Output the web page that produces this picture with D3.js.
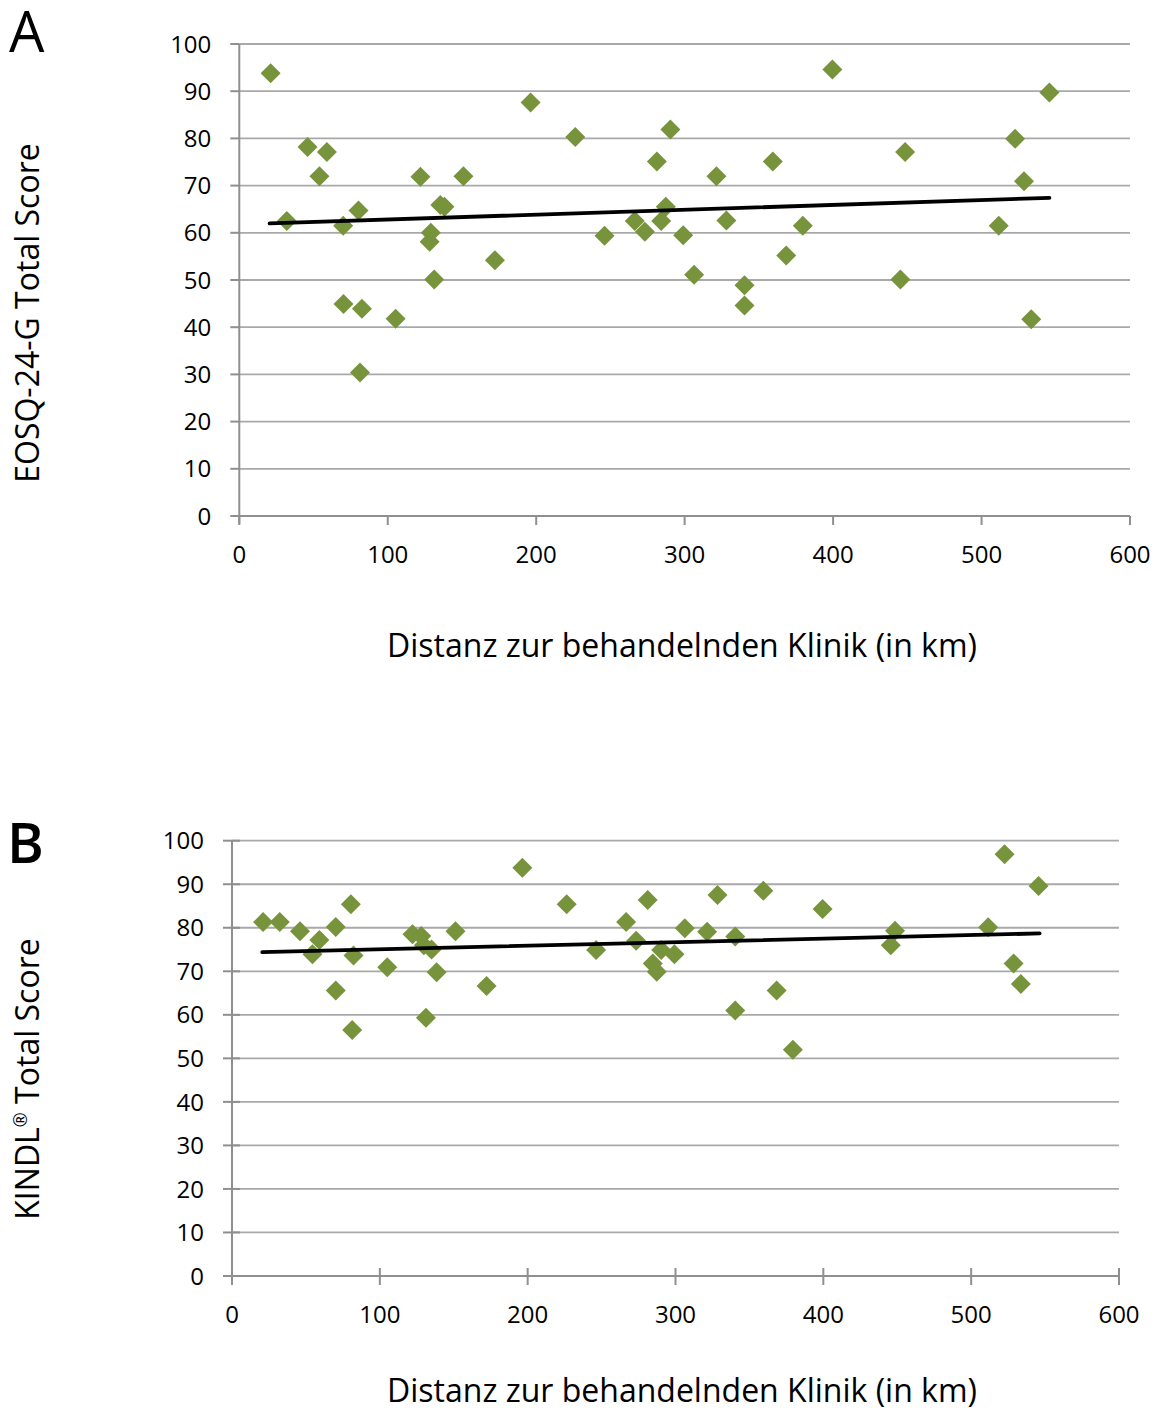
<!DOCTYPE html>
<html>
<head>
<meta charset="utf-8">
<script src="https://cdn.jsdelivr.net/npm/d3@7"></script>
<style>
  html, body { margin: 0; padding: 0; background: #fff; }
  svg { display: block; font-family: "Open Sans", "Noto Sans", sans-serif; }
</style>
</head>
<body>
<svg id="chart" width="1163" height="1411"></svg>
<script>
// ---- Data ----
const xTicks = [0, 100, 200, 300, 400, 500, 600];
const yTicks = [0, 10, 20, 30, 40, 50, 60, 70, 80, 90, 100];

const distA = [21.1, 32, 46, 54, 59, 70, 70.2, 80.3, 81.3, 82.6, 105.3, 122, 128.2, 129, 131.3, 135.4, 138.2, 151, 172.2, 196.2,
  226.3, 246, 266.4, 273.2, 281.3, 284.2, 287.3, 290.4, 299, 306.4, 321.4, 328.1, 340.3, 340.3, 359.4, 368.4, 379.6, 399.5,
  445.3, 448.5, 511.6, 522.6, 528.6, 533.5, 545.7];
const eosq = [93.8, 62.5, 78.2, 72.0, 77.1, 61.5, 44.9, 64.7, 30.4, 43.9, 41.8, 71.9, 58.1, 60.0, 50.1, 65.9, 65.5, 72.0, 54.2, 87.6,
  80.3, 59.4, 62.5, 60.2, 75.1, 62.5, 65.5, 81.9, 59.5, 51.1, 72.0, 62.6, 48.9, 44.6, 75.1, 55.2, 61.5, 94.6,
  50.1, 77.1, 61.5, 79.9, 70.9, 41.7, 89.7];
const trendAx = [20.4, 545.7];
const trendAy = [62.0, 67.4];

const distB = [21, 32.3, 46, 54.4, 59.1, 70.2, 70.2, 80.4, 81.3, 82.2, 105, 122.1, 128, 129.8, 131.2, 135, 138.4, 151.2, 172.2, 196.4,
  226.4, 246.3, 266.6, 273.4, 281.2, 284.6, 287.3, 290.3, 299.3, 306.3, 321.4, 328.4, 340.4, 340.4, 359.4, 368.4, 379.4, 399.5,
  445.6, 448.5, 511.5, 522.6, 528.7, 533.6, 545.6];
const kindl = [81.3, 81.3, 79.2, 73.9, 77.2, 80.2, 65.6, 85.4, 56.5, 73.6, 70.9, 78.5, 78.1, 76.0, 59.3, 75.0, 69.8, 79.2, 66.6, 93.8,
  85.4, 74.9, 81.3, 77.0, 86.4, 71.8, 69.9, 74.9, 73.9, 79.9, 79.1, 87.5, 78.0, 61.0, 88.5, 65.6, 52.0, 84.3,
  76.0, 79.3, 80.1, 96.9, 71.8, 67.1, 89.6];
const trendBx = [20.5, 546.3];
const trendBy = [74.4, 78.7];

const xTitle = "Distanz zur behandelnden Klinik (in km)";

// ---- Drawing ----
const svg = d3.select("#chart");
const GREEN = "#77933C";
const GRID = "#a9a9a9";
const AXIS = "#8f8f8f";

function panel(cfg) {
  const g = svg.append("g");
  const x = d3.scaleLinear().domain([0, 600]).range(cfg.xr);
  const y = d3.scaleLinear().domain([0, 100]).range(cfg.yr);
  const x0 = x(0), y0 = y(0);

  // gridlines
  g.selectAll("line.grid").data(yTicks.filter(d => d > 0)).join("line")
    .attr("x1", x0).attr("x2", x(600))
    .attr("y1", d => y(d)).attr("y2", d => y(d))
    .attr("stroke", GRID).attr("stroke-width", 1.8);

  // x axis line
  g.append("line").attr("x1", x0).attr("x2", x(600)).attr("y1", y0).attr("y2", y0)
    .attr("stroke", AXIS).attr("stroke-width", 2);
  // y axis line
  g.append("line").attr("x1", x0).attr("x2", x0).attr("y1", y(100)).attr("y2", y0 + 8)
    .attr("stroke", AXIS).attr("stroke-width", 2);

  // y ticks
  g.selectAll("line.yt").data(yTicks).join("line")
    .attr("x1", x0 - 9).attr("x2", cfg.cross ? x0 + 8 : x0)
    .attr("y1", d => y(d)).attr("y2", d => y(d))
    .attr("stroke", AXIS).attr("stroke-width", 2);
  // x ticks
  g.selectAll("line.xt").data(xTicks).join("line")
    .attr("x1", d => x(d)).attr("x2", d => x(d))
    .attr("y1", cfg.cross ? y0 - 8 : y0).attr("y2", y0 + 9)
    .attr("stroke", AXIS).attr("stroke-width", 2);

  // y tick labels
  g.selectAll("text.yl").data(yTicks).join("text")
    .attr("x", x0 - 28).attr("y", d => y(d)).attr("dy", "0.36em")
    .attr("text-anchor", "end").attr("font-size", 24).attr("fill", "#000")
    .text(d => d);
  // x tick labels
  g.selectAll("text.xl").data(xTicks).join("text")
    .attr("x", d => x(d)).attr("y", y0 + 47)
    .attr("text-anchor", "middle").attr("font-size", 24).attr("fill", "#000")
    .text(d => d);

  // points
  const pts = cfg.xs.map((d, i) => [d, cfg.ys[i]]);
  g.selectAll("path.pt").data(pts).join("path")
    .attr("d", d => {
      const cx = x(d[0]), cy = y(d[1]), r = 10;
      return `M${cx},${cy - r}L${cx + r},${cy}L${cx},${cy + r}L${cx - r},${cy}Z`;
    })
    .attr("fill", GREEN);

  // trend line
  const line = d3.line().x(d => x(d[0])).y(d => y(d[1]));
  g.append("path").datum(cfg.tx.map((d, i) => [d, cfg.ty[i]]))
    .attr("d", line).attr("stroke", "#000").attr("stroke-width", 3.8)
    .attr("stroke-linecap", "round").attr("fill", "none");

  // x title
  g.append("text").attr("x", cfg.xtX).attr("y", cfg.xtY)
    .attr("text-anchor", "middle").attr("font-size", 32).attr("fill", "#000")
    .text(xTitle);

  // y title
  const yt = g.append("text")
    .attr("transform", `translate(38.5,${cfg.ytY}) rotate(-90)`)
    .attr("text-anchor", "middle").attr("font-size", 32).attr("fill", "#000");
  cfg.ytParts.forEach(p => {
    const t = yt.append("tspan").text(p.t);
    if (p.sup) t.attr("font-size", 18).attr("dy", -12);
    if (p.after) t.attr("dy", 12);
  });

  // panel letter
  svg.append("text").attr("x", cfg.letterX).attr("y", cfg.letterY)
    .attr("font-size", 56).attr("font-weight", cfg.letterW).attr("fill", "#000")
    .text(cfg.letter);
}

panel({
  xr: [239.3, 1130], yr: [516, 44], cross: false,
  xs: distA, ys: eosq, tx: trendAx, ty: trendAy,
  xtX: 682, xtY: 657, ytY: 313,
  ytParts: [{ t: "EOSQ-24-G Total Score" }],
  letter: "A", letterX: 9, letterY: 52, letterW: 400
});

panel({
  xr: [232, 1119], yr: [1276, 840.7], cross: true,
  xs: distB, ys: kindl, tx: trendBx, ty: trendBy,
  xtX: 682, xtY: 1402, ytY: 1079,
  ytParts: [{ t: "KINDL" }, { t: "®", sup: true }, { t: " Total Score", after: true }],
  letter: "B", letterX: 7, letterY: 863, letterW: 600
});
</script>
</body>
</html>
